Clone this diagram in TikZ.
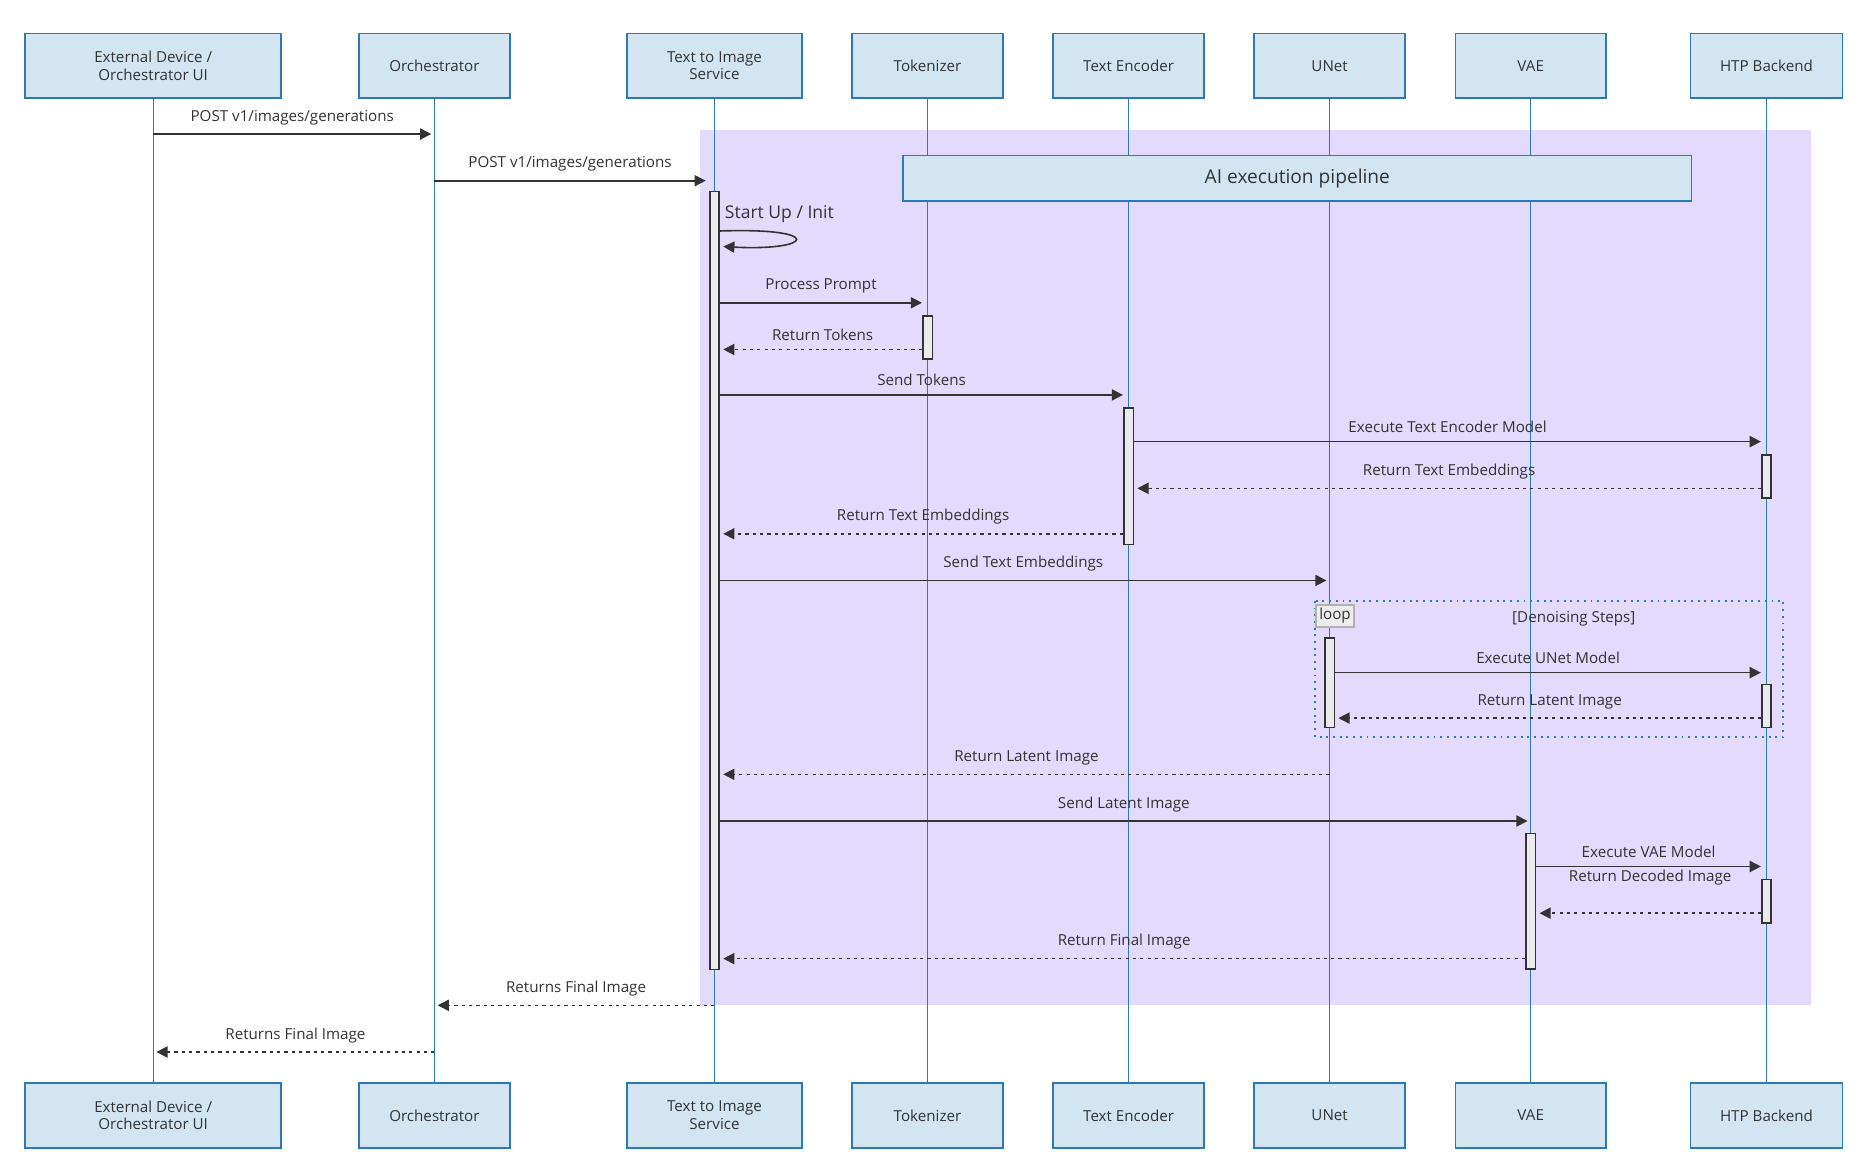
\documentclass[tikz,border=0pt]{standalone}
\usepackage{fontspec}
\setmainfont{Open Sans}
\usepackage{tikz}
\usetikzlibrary{arrows.meta}
\definecolor{actfill}{HTML}{D4E5F2}
\definecolor{actdraw}{HTML}{2A7AB8}
\definecolor{lane}{HTML}{E3DAFD}
\definecolor{ink}{HTML}{333333}
\tikzset{
  actor/.style={draw=actdraw, line width=1pt, fill=actfill, minimum height=40.5pt, align=center, font=\fontsize{9.5}{11}\selectfont, text=ink},
  life/.style={draw=actdraw, line width=0.6pt},
  bar/.style={draw=ink, line width=1pt, fill=black!8},
  msg/.style={draw=ink, line width=1pt, -{Triangle[length=7pt,width=7pt]}},
  ret/.style={msg, dash pattern=on 2pt off 2.6pt},
  lbl/.style={font=\fontsize{9.5}{11}\selectfont, text=ink},
}
\begin{document}
\begin{tikzpicture}[x=0.75pt, y=-0.75pt]
    \path[use as bounding box] (0,0) rectangle (1560,975);

    \fill[lane] (585,109) rectangle (1513,840);

    % actors, top and bottom
    \foreach \nm/\x/\w/\txt in {ext/128/214/{External Device /\\Orchestrator UI}, orc/363/126/Orchestrator,
        tti/597/146/{Text to Image\\Service}, tok/775/126/Tokenizer, enc/943/126/Text Encoder,
        unet/1111/126/UNet, vae/1279/126/VAE, htp/1476/127/HTP Backend} {
      \node[actor, minimum width=\w*0.75pt] at (\x,55) (\nm) {\txt};
      \node[actor, minimum width=\w*0.75pt] at (\x,932) (\nm b) {\txt};
      \draw[life] (\nm.south) -- (\nm b.north);
    }

    \node[draw=actdraw, line width=1pt, fill=actfill, minimum width=494pt, minimum height=28.5pt,
          font=\fontsize{12}{14}\selectfont, text=ink] at (1084,149) (pipe) {AI execution pipeline};

    % loop frame
    \draw[draw=actdraw, line width=1.1pt, dash pattern=on 1.2pt off 3pt] (1099,502) rectangle (1490,616);
    \node[draw=black!30, line width=1pt, fill=black!7, inner sep=2pt, anchor=north west, lbl]
        at (1099,505) (looptag) {loop};
    \node[lbl] at (1315,517) (cond) {[Denoising Steps]};

    % activations
    \node[bar, minimum width=6pt, minimum height=487.5pt, inner sep=0pt] at (597,485) (a1) {};
    \node[bar, minimum width=6pt, minimum height=27pt, inner sep=0pt] at (775,282) (a2) {};
    \node[bar, minimum width=6pt, minimum height=85.5pt, inner sep=0pt] at (943,398) (a3) {};
    \node[bar, minimum width=6pt, minimum height=27pt, inner sep=0pt] at (1476,398) (a4) {};
    \node[bar, minimum width=6pt, minimum height=56pt, inner sep=0pt] at (1111,570.5) (a5) {};
    \node[bar, minimum width=6pt, minimum height=27pt, inner sep=0pt] at (1476,590) (a6) {};
    \node[bar, minimum width=6pt, minimum height=85pt, inner sep=0pt] at (1279,753) (a7) {};
    \node[bar, minimum width=6pt, minimum height=27pt, inner sep=0pt] at (1476,753) (a8) {};

    % messages
    \draw[msg] (ext |- 0,112) -- node[lbl, above=2pt] {POST v1/images/generations} ([xshift=-2pt]orc |- 0,112);
    \draw[msg] (orc |- 0,151) -- node[lbl, above=2pt] {POST v1/images/generations} ([xshift=-2pt]a1.west |- 0,151);
    \node[anchor=west, font=\fontsize{11}{13}\selectfont, text=ink] at (601,179) (init) {Start Up / Init};
    \draw[msg] (a1.east |- 0,193) .. controls (690,190) and (680,210) .. ([xshift=2pt]a1.east |- 0,206);
    \draw[msg] (a1.east |- 0,253) -- node[lbl, above=2pt] {Process Prompt} (a2.west |- 0,253);
    \draw[ret] (a2.west |- 0,292) -- node[lbl, above=2pt] {Return Tokens} ([xshift=2pt]a1.east |- 0,292);
    \draw[msg] (a1.east |- 0,330) -- node[lbl, above=2pt] {Send Tokens} (a3.west |- 0,330);
    \draw[msg] (a3.east |- 0,369) -- node[lbl, above=2pt] {Execute Text Encoder Model} (a4.west |- 0,369);
    \draw[ret] (a4.west |- 0,408) -- node[lbl, above=2pt] {Return Text Embeddings} ([xshift=2pt]a3.east |- 0,408);
    \draw[ret] (a3.west |- 0,446) -- node[lbl, above=2pt] {Return Text Embeddings} ([xshift=2pt]a1.east |- 0,446);
    \draw[msg] (a1.east |- 0,485) -- node[lbl, above=2pt] {Send Text Embeddings} ([xshift=-2pt]unet |- 0,485);
    \draw[msg] (a5.east |- 0,562) -- node[lbl, above=2pt] {Execute UNet Model} (a6.west |- 0,562);
    \draw[ret] (a6.west |- 0,600) -- node[lbl, above=2pt] {Return Latent Image} ([xshift=2pt]a5.east |- 0,600);
    \draw[ret] (unet |- 0,647) -- node[lbl, above=2pt] {Return Latent Image} ([xshift=2pt]a1.east |- 0,647);
    \draw[msg] (a1.east |- 0,686) -- node[lbl, above=2pt] {Send Latent Image} ([xshift=-2pt]vae |- 0,686);
    \draw[msg] (a7.east |- 0,724) -- node[lbl, above=2pt] {Execute VAE Model} (a8.west |- 0,724);
    \draw[ret] (a8.west |- 0,763) -- node[lbl, above=14pt] {Return Decoded Image} ([xshift=2pt]a7.east |- 0,763);
    \draw[ret] (a7.west |- 0,801) -- node[lbl, above=2pt] {Return Final Image} ([xshift=2pt]a1.east |- 0,801);
    \draw[ret] (tti |- 0,840) -- node[lbl, above=2pt] {Returns Final Image} ([xshift=2pt]orc |- 0,840);
    \draw[ret] (orc |- 0,879) -- node[lbl, above=2pt] {Returns Final Image} ([xshift=2pt]ext |- 0,879);
\end{tikzpicture}
\end{document}
